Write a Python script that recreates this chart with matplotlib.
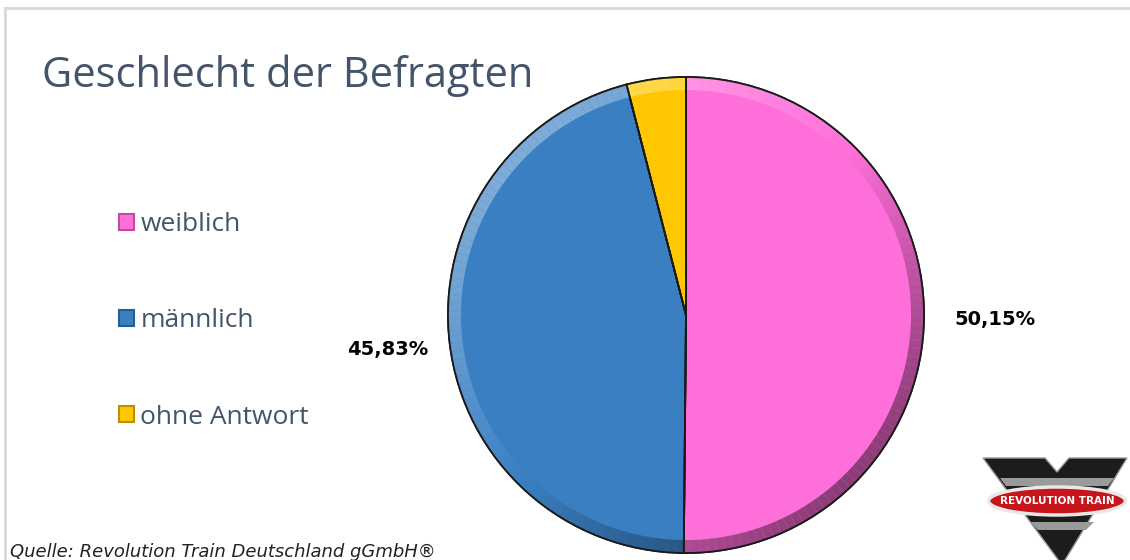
import numpy as np
import matplotlib.pyplot as plt
from matplotlib.patches import Wedge, Polygon, Ellipse
from matplotlib.colors import to_rgb

categories = ["weiblich", "männlich", "ohne Antwort"]
shares = [50.15, 45.83, 4.02]
pct_labels = ["50,15%", "45,83%", ""]
colors = ["#ff6fd9", "#3a7fc2", "#ffc700"]

title = "Geschlecht der Befragten"
source = "Quelle: Revolution Train Deutschland gGmbH®"

W, H = 1130, 560
fig = plt.figure(figsize=(W / 100, H / 100), dpi=100)
ax = fig.add_axes([0, 0, 1, 1])

cx, cy, r = 686, H - 315, 238

wedges, _ = ax.pie(
    shares,
    colors=colors,
    startangle=90,
    counterclock=False,
    center=(cx, cy),
    radius=r,
    wedgeprops=dict(edgecolor="#1a1a1a", linewidth=1.3),
)


def shade(c, s):
    c = np.array(to_rgb(c))
    if s > 0:
        return c + (1 - c) * 0.35 * s
    return c * (1 + 0.45 * s)


# bevel band around the rim
band = 13
for w, c in zip(wedges, colors):
    t1, t2 = w.theta1, w.theta2
    steps = max(int((t2 - t1) / 2), 1)
    edges = np.linspace(t1, t2, steps + 1)
    for a, b in zip(edges[:-1], edges[1:]):
        s = np.cos(np.radians((a + b) / 2 - 135))
        ax.add_patch(Wedge((cx, cy), r, a, b, width=band,
                           facecolor=shade(c, s), edgecolor="none", zorder=2))
    ax.add_patch(Wedge((cx, cy), r, t1, t2, facecolor="none",
                       edgecolor="#1a1a1a", linewidth=1.3, zorder=3))

# percentage labels
ax.text(995, H - 320, pct_labels[0], ha="center", va="center",
        fontsize=14, fontweight="bold", color="black", family="DejaVu Sans")
ax.text(388, H - 350, pct_labels[1], ha="center", va="center",
        fontsize=14, fontweight="bold", color="black", family="DejaVu Sans")

ax.set_xlim(0, W)
ax.set_ylim(0, H)
ax.set_aspect("equal")
ax.axis("off")

# frame lines
ax.plot([5, W], [H - 8, H - 8], color="#d9d9d9", linewidth=2)
ax.plot([5, 5], [H - 8, 0], color="#d9d9d9", linewidth=2)

ax.text(42, H - 76, title, ha="left", va="center", fontsize=30,
        color="#44546a", family="Open Sans")

leg = ax.legend(wedges, categories, loc="upper left",
                bbox_to_anchor=(106 / W, 1 - 199 / H), frameon=False,
                fontsize=19, labelspacing=2.7, handlelength=0.55,
                handleheight=0.55, handletextpad=0.25, borderpad=0)
for t in leg.get_texts():
    t.set_color("#44546a")
    t.set_family("Open Sans")
for h, c in zip(leg.legend_handles, colors):
    h.set_edgecolor(shade(c, -0.6))
    h.set_linewidth(1.5)

ax.text(10, H - 552, source, ha="left", va="center", fontsize=13,
        style="italic", color="#222222",
        family=["Liberation Sans Narrow", "DejaVu Sans"])

# logo
ax.add_patch(Polygon([(983, H - 458), (1045, H - 458), (1057, H - 472),
                      (1069, H - 458), (1127, H - 458), (1062, H - 565)],
                     closed=True, facecolor="#1c1c1c", edgecolor="#999999",
                     linewidth=1, zorder=4))
ax.add_patch(Polygon([(1000, H - 478), (1114, H - 478), (1108, H - 486),
                      (1006, H - 486)], closed=True, facecolor="#9a9a9a",
                     edgecolor="none", zorder=4))
ax.add_patch(Polygon([(1030, H - 522), (1094, H - 522), (1086, H - 530),
                      (1038, H - 530)], closed=True, facecolor="#9a9a9a",
                     edgecolor="none", zorder=4))
ax.add_patch(Ellipse((1057, H - 501), 137, 28, facecolor="#c8141b",
                     edgecolor="#e8e8e8", linewidth=2.5, zorder=5))
ax.text(1057, H - 501, "REVOLUTION TRAIN", ha="center", va="center",
        fontsize=7.5, fontweight="bold", color="white", zorder=6)

fig.savefig("out.png", dpi=100)
